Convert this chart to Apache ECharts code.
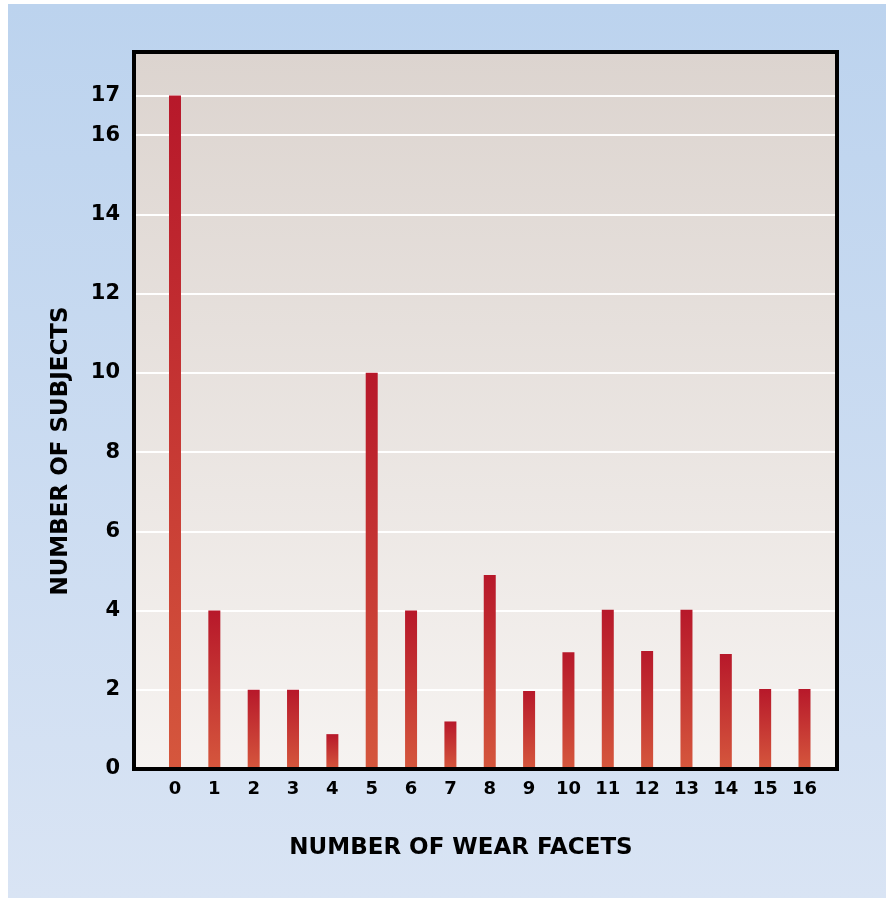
<!DOCTYPE html>
<html>
<head>
<meta charset="utf-8">
<script src="https://cdn.jsdelivr.net/npm/echarts@6/dist/echarts.min.js"></script>
<style>
html,body{margin:0;padding:0;background:#ffffff;}
#chart{width:886px;height:898px;}
</style>
</head>
<body>
<div id="chart"></div>
<script>
// Data
const facets = [0,1,2,3,4,5,6,7,8,9,10,11,12,13,14,15,16];
const subjects = [17,4,2,2,0.88,10,4,1.2,4.9,1.97,2.95,4.02,2.98,4.02,2.9,2.02,2.02];
const yTickLabels = [0,2,4,6,8,10,12,14,16,17];
const gridLineValues = [2,4,6,8,10,12,14,16,17];
const xTitle = 'NUMBER OF WEAR FACETS';
const yTitle = 'NUMBER OF SUBJECTS';

const chart = echarts.init(document.getElementById('chart'));
const FONT = '"DejaVu Sans", sans-serif';

const option = {
  animation: false,
  graphic: [
    {
      type: 'rect', z: -10, silent: true,
      shape: {x: 8, y: 4, width: 878, height: 894},
      style: {fill: new echarts.graphic.LinearGradient(0,0,0,1,[
        {offset:0, color:'#bcd3ee'},{offset:1, color:'#d9e4f4'}])}
    },
    {
      type: 'rect', z: 100, silent: true,
      shape: {x: 134, y: 52, width: 703, height: 717},
      style: {fill: 'none', stroke: '#000000', lineWidth: 4}
    },
    {
      type: 'text', z: 100, silent: true,
      x: 461, y: 848,
      style: {text: xTitle, align: 'center', verticalAlign: 'middle',
        font: 'bold 23px ' + FONT, fill: '#000000'}
    },
    {
      type: 'text', z: 100, silent: true,
      x: 61, y: 451, rotation: Math.PI / 2,
      style: {text: yTitle, align: 'center', verticalAlign: 'middle',
        font: 'bold 23px ' + FONT, fill: '#000000'}
    }
  ],
  grid: {
    left: 134, right: 49, top: 52, bottom: 129,
    show: true,
    borderWidth: 0,
    backgroundColor: new echarts.graphic.LinearGradient(0,0,0,1,[
      {offset:0, color:'#dcd4cf'},{offset:1, color:'#f6f3f1'}])
  },
  xAxis: {
    type: 'value',
    min: -1.042, max: 16.826,
    axisLine: {show: false},
    axisTick: {show: false},
    splitLine: {show: false},
    axisLabel: {
      customValues: facets,
      margin: 11,
      color: '#000000',
      fontFamily: FONT,
      fontWeight: 'bold',
      fontSize: 18
    }
  },
  yAxis: {
    type: 'value',
    min: 0, max: 18.1,
    axisLine: {show: false},
    axisTick: {show: false},
    splitLine: {show: false},
    axisLabel: {
      customValues: yTickLabels,
      margin: 14,
      color: '#000000',
      fontFamily: FONT,
      fontWeight: 'bold',
      fontSize: 21
    }
  },
  series: [
    {
      type: 'line',
      data: [],
      z: 1,
      silent: true,
      markLine: {
        z: 1,
        silent: true,
        symbol: ['none','none'],
        label: {show: false},
        lineStyle: {color: '#ffffff', width: 2, type: 'solid'},
        data: gridLineValues.map(v => ({yAxis: v}))
      }
    },
    {
      type: 'bar',
      z: 10,
      barWidth: 12,
      data: facets.map((f, i) => [f, subjects[i]]),
      itemStyle: {
        color: new echarts.graphic.LinearGradient(0,0,0,1,[
          {offset:0, color:'#b7182a'},{offset:1, color:'#d5573d'}])
      }
    }
  ]
};
chart.setOption(option);
</script>
</body>
</html>
